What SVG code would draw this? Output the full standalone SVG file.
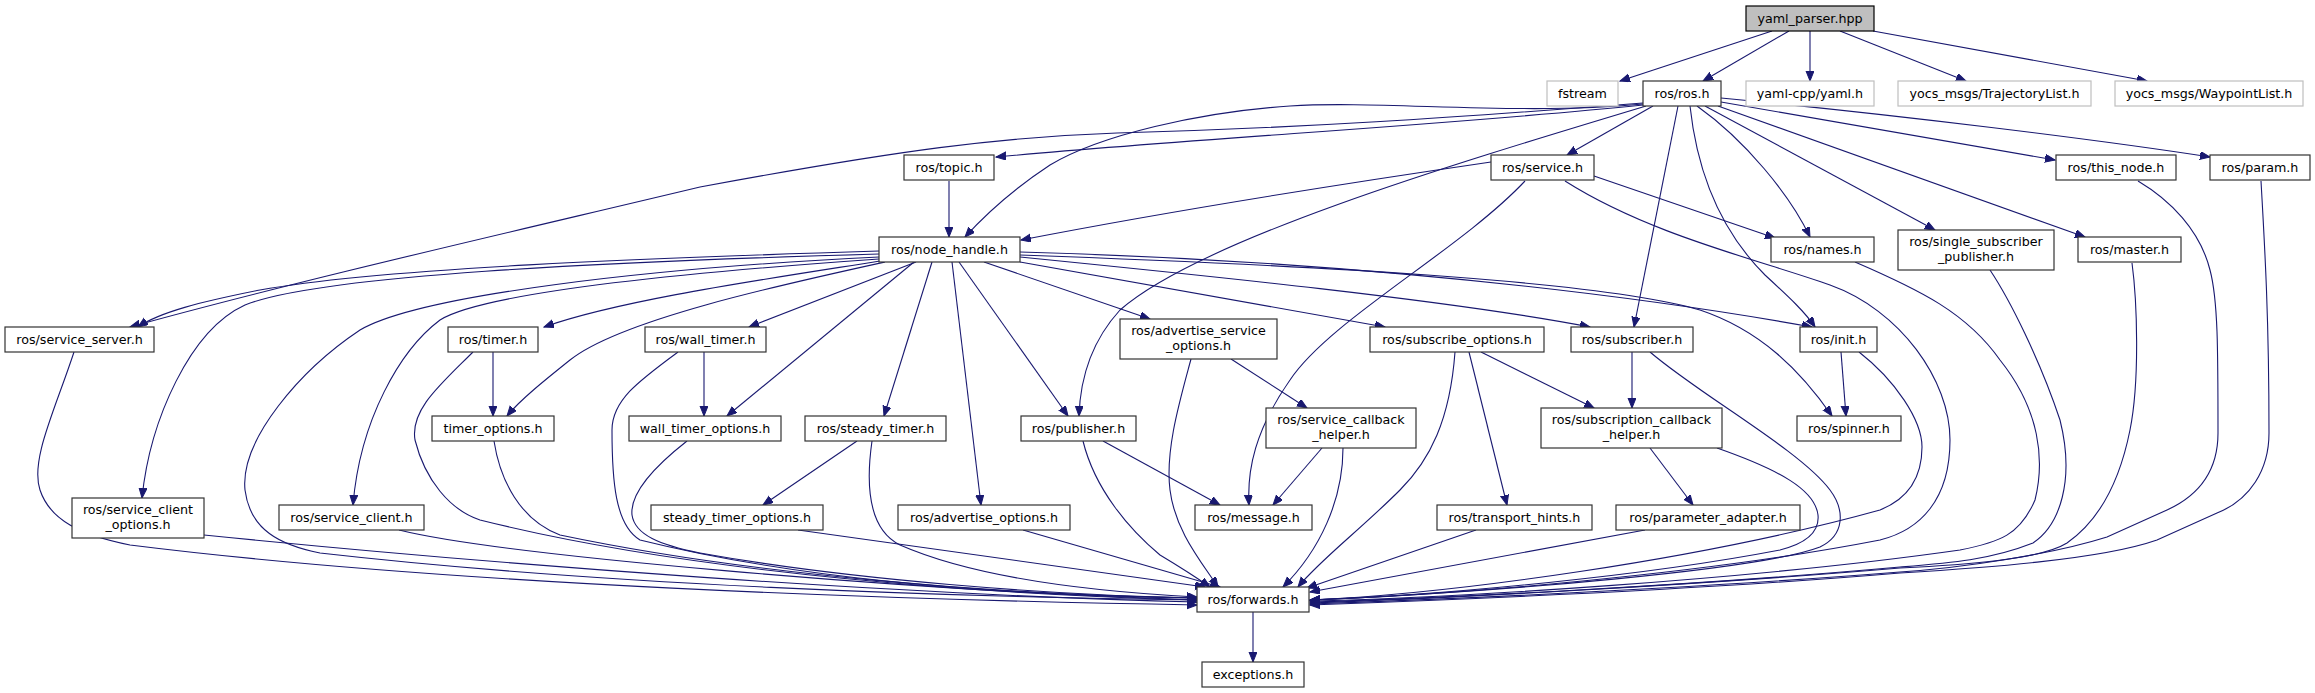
<svg xmlns="http://www.w3.org/2000/svg" width="2315" height="693" viewBox="0 0 2315 693">
<style>
.n rect{fill:#fff;stroke:#333;stroke-width:1.2}
.r rect{fill:#bfbfbf;stroke:#000;stroke-width:1.2}
.x rect{fill:#fff;stroke:#bfbfbf;stroke-width:1.2}
text{font-family:"DejaVu Sans",Verdana,sans-serif;font-size:12.7px;fill:#000;text-anchor:middle}
#edges path{fill:none;stroke:#191970;stroke-width:1.1;marker-end:url(#a)}
</style>
<defs>
<marker id="a" markerUnits="userSpaceOnUse" markerWidth="11" markerHeight="9" refX="10" refY="4" orient="auto"><path d="M0,0 L10,4 L0,8 z" fill="#191970" stroke="#191970" stroke-width="1"/></marker>
</defs>
<rect width="2315" height="693" fill="#fff"/>
<g id="edges">
<path d="M1772,31 L1620,81"/>
<path d="M1789,31 L1703,81"/>
<path d="M1810,31 L1810,81"/>
<path d="M1840,31 L1966,81"/>
<path d="M1873,31 L2147,81"/>
<path d="M1643,105 C1450,125 1200,138 996,157"/>
<path d="M1643,104 C1520,116 1380,100 1290,106 C1200,112 1100,135 1050,165 C1015,188 985,215 965,237"/>
<path d="M1643,103 C1450,118 1300,128 1117,133 C1000,137 900,150 700,187 C520,230 300,280 130,327"/>
<path d="M1646,106 C1450,165 1200,240 1120,310 C1088,345 1080,385 1079,416"/>
<path d="M1653,106 L1567,155"/>
<path d="M1678,106 L1634,327"/>
<path d="M1690,106 C1698,180 1725,235 1765,275 C1790,298 1805,312 1815,327"/>
<path d="M1697,106 C1745,140 1790,195 1810,237"/>
<path d="M1705,106 L1935,230"/>
<path d="M1718,106 L2085,237"/>
<path d="M1721,102 L2055,160"/>
<path d="M1721,98 C1900,115 2100,140 2210,157"/>
<path d="M949,181 L949,237"/>
<path d="M1491,162 C1300,190 1150,215 1021,240"/>
<path d="M1594,176 L1775,238"/>
<path d="M1525,181 C1460,250 1330,320 1290,380 C1255,430 1247,470 1249,505"/>
<path d="M1565,181 C1650,235 1760,260 1830,285 C1900,310 1950,380 1950,440 C1950,500 1920,530 1880,540 C1700,575 1450,595 1310,600"/>
<path d="M879,251 C650,258 380,268 260,290 C200,302 160,312 138,327"/>
<path d="M879,254 C600,262 320,275 245,305 C190,330 150,420 142,498"/>
<path d="M879,257 C650,268 420,295 360,330 C300,370 240,440 245,490 C250,530 280,545 320,553 C600,585 950,597 1197,600"/>
<path d="M879,259 C650,275 480,295 440,320 C400,350 360,420 353,505"/>
<path d="M880,261 C760,280 620,300 544,327"/>
<path d="M885,262 C780,285 620,320 570,360 C545,380 520,400 507,416"/>
<path d="M916,262 L749,327"/>
<path d="M914,262 L727,416"/>
<path d="M932,262 L884,416"/>
<path d="M952,262 L981,505"/>
<path d="M959,262 L1068,416"/>
<path d="M984,262 L1150,319"/>
<path d="M1020,262 L1385,327"/>
<path d="M1020,257 C1200,275 1450,300 1590,327"/>
<path d="M1020,252 C1250,258 1550,280 1812,327"/>
<path d="M1020,255 C1300,265 1600,280 1700,310 C1760,330 1800,370 1832,416"/>
<path d="M74,352 C55,410 30,460 40,490 C50,520 80,535 130,545 C450,585 900,600 1197,605"/>
<path d="M493,352 L493,416"/>
<path d="M473,352 C440,385 410,410 415,440 C425,480 450,510 480,520 C700,575 1000,595 1197,600"/>
<path d="M704,352 L704,416"/>
<path d="M678,352 C640,380 612,400 612,430 C612,480 615,525 640,540 C800,580 1000,595 1197,598"/>
<path d="M1231,359 L1307,408"/>
<path d="M1191,359 C1180,400 1165,450 1170,490 C1175,530 1200,560 1218,587"/>
<path d="M1481,352 L1594,408"/>
<path d="M1469,352 L1507,505"/>
<path d="M1455,352 C1450,420 1430,460 1400,490 C1360,530 1320,560 1298,587"/>
<path d="M1632,352 L1632,408"/>
<path d="M1650,352 C1700,395 1800,450 1830,490 C1845,510 1845,535 1820,547 C1760,570 1500,592 1310,600"/>
<path d="M1841,352 L1846,416"/>
<path d="M1859,352 C1895,380 1922,420 1922,447 C1922,480 1905,500 1880,510 C1700,560 1450,594 1310,600"/>
<path d="M494,441 C500,480 520,520 560,535 C750,575 1000,595 1197,598"/>
<path d="M687,441 C650,470 630,495 632,515 C635,535 660,545 700,553 C850,580 1050,595 1197,598"/>
<path d="M872,441 C865,490 870,530 900,545 C980,580 1100,592 1197,597"/>
<path d="M857,441 L763,505"/>
<path d="M1103,441 L1220,505"/>
<path d="M1083,441 C1095,490 1130,530 1160,555 C1185,570 1200,580 1210,587"/>
<path d="M1322,448 L1273,505"/>
<path d="M1343,448 C1343,500 1320,550 1283,587"/>
<path d="M1650,448 L1693,505"/>
<path d="M1717,448 C1780,470 1815,490 1818,515 C1820,535 1800,545 1780,550 C1650,575 1450,595 1310,600"/>
<path d="M204,535 C500,565 900,595 1197,602"/>
<path d="M399,530 C500,555 900,590 1197,600"/>
<path d="M798,530 L1205,587"/>
<path d="M1023,530 L1220,587"/>
<path d="M1476,530 L1307,588"/>
<path d="M1645,530 L1310,592"/>
<path d="M1855,262 C1920,290 1967,313 2000,360 C2040,410 2045,460 2035,500 C2020,535 2000,542 1960,550 C1750,580 1450,598 1310,601"/>
<path d="M1990,270 C2010,300 2040,360 2060,420 C2075,480 2060,525 2033,543 C1990,560 1950,563 1900,567 C1700,585 1450,598 1310,602"/>
<path d="M2132,263 C2137,300 2140,380 2130,430 C2120,480 2100,520 2067,543 C2040,560 1960,565 1900,568 C1700,585 1450,598 1310,603"/>
<path d="M2138,181 C2170,200 2200,230 2210,270 C2218,300 2218,350 2218,433 C2218,470 2200,495 2167,510 L2107,537 C2050,555 1960,568 1900,572 C1700,588 1450,599 1310,604"/>
<path d="M2261,181 C2265,250 2269,320 2269,433 C2269,470 2250,500 2217,513 L2157,540 C2100,560 1980,568 1900,573 C1700,590 1450,600 1310,605"/>
<path d="M1253,612 L1253,662"/>
</g>
<g id="yaml_parser" class="r"><rect x="1746" y="6" width="128" height="25"/><text x="1810" y="22.5">yaml_parser.hpp</text></g>
<g id="fstream" class="x"><rect x="1547" y="81" width="71" height="25"/><text x="1582.5" y="97.5">fstream</text></g>
<g id="ros_ros" class="n"><rect x="1643" y="81" width="78" height="25"/><text x="1682" y="97.5">ros/ros.h</text></g>
<g id="yaml_cpp" class="x"><rect x="1746" y="81" width="128" height="25"/><text x="1810" y="97.5">yaml-cpp/yaml.h</text></g>
<g id="traj" class="x"><rect x="1898" y="81" width="193" height="25"/><text x="1994.5" y="97.5">yocs_msgs/TrajectoryList.h</text></g>
<g id="wp" class="x"><rect x="2115" y="81" width="188" height="25"/><text x="2209" y="97.5">yocs_msgs/WaypointList.h</text></g>
<g id="topic" class="n"><rect x="904" y="155" width="90" height="25"/><text x="949" y="171.5">ros/topic.h</text></g>
<g id="service" class="n"><rect x="1491" y="155" width="103" height="25"/><text x="1542.5" y="171.5">ros/service.h</text></g>
<g id="this_node" class="n"><rect x="2056" y="155" width="120" height="25"/><text x="2116" y="171.5">ros/this_node.h</text></g>
<g id="param" class="n"><rect x="2210" y="155" width="100" height="25"/><text x="2260" y="171.5">ros/param.h</text></g>
<g id="node_handle" class="n"><rect x="879" y="237" width="141" height="25"/><text x="949.5" y="253.5">ros/node_handle.h</text></g>
<g id="names" class="n"><rect x="1771" y="237" width="103" height="25"/><text x="1822.5" y="253.5">ros/names.h</text></g>
<g id="ssp" class="n"><rect x="1898" y="230" width="156" height="40"/><text x="1976" y="246">ros/single_subscriber</text><text x="1976" y="261">_publisher.h</text></g>
<g id="master" class="n"><rect x="2078" y="237" width="103" height="25"/><text x="2129.5" y="253.5">ros/master.h</text></g>
<g id="service_server" class="n"><rect x="5" y="327" width="149" height="25"/><text x="79.5" y="343.5">ros/service_server.h</text></g>
<g id="timer" class="n"><rect x="448" y="327" width="90" height="25"/><text x="493" y="343.5">ros/timer.h</text></g>
<g id="wall_timer" class="n"><rect x="645" y="327" width="121" height="25"/><text x="705.5" y="343.5">ros/wall_timer.h</text></g>
<g id="aso" class="n"><rect x="1120" y="319" width="157" height="40"/><text x="1198.5" y="335">ros/advertise_service</text><text x="1198.5" y="350">_options.h</text></g>
<g id="subscribe_options" class="n"><rect x="1370" y="327" width="174" height="25"/><text x="1457" y="343.5">ros/subscribe_options.h</text></g>
<g id="subscriber" class="n"><rect x="1571" y="327" width="122" height="25"/><text x="1632" y="343.5">ros/subscriber.h</text></g>
<g id="init" class="n"><rect x="1800" y="327" width="77" height="25"/><text x="1838.5" y="343.5">ros/init.h</text></g>
<g id="timer_options" class="n"><rect x="432" y="416" width="122" height="25"/><text x="493" y="432.5">timer_options.h</text></g>
<g id="wall_timer_options" class="n"><rect x="629" y="416" width="152" height="25"/><text x="705" y="432.5">wall_timer_options.h</text></g>
<g id="steady_timer" class="n"><rect x="805" y="416" width="141" height="25"/><text x="875.5" y="432.5">ros/steady_timer.h</text></g>
<g id="publisher" class="n"><rect x="1021" y="416" width="115" height="25"/><text x="1078.5" y="432.5">ros/publisher.h</text></g>
<g id="sch" class="n"><rect x="1266" y="408" width="150" height="40"/><text x="1341" y="424">ros/service_callback</text><text x="1341" y="439">_helper.h</text></g>
<g id="subch" class="n"><rect x="1541" y="408" width="181" height="40"/><text x="1631.5" y="424">ros/subscription_callback</text><text x="1631.5" y="439">_helper.h</text></g>
<g id="spinner" class="n"><rect x="1797" y="416" width="104" height="25"/><text x="1849" y="432.5">ros/spinner.h</text></g>
<g id="sco" class="n"><rect x="72" y="498" width="132" height="40"/><text x="138" y="514">ros/service_client</text><text x="138" y="529">_options.h</text></g>
<g id="service_client" class="n"><rect x="279" y="505" width="145" height="25"/><text x="351.5" y="521.5">ros/service_client.h</text></g>
<g id="steady_timer_options" class="n"><rect x="651" y="505" width="172" height="25"/><text x="737" y="521.5">steady_timer_options.h</text></g>
<g id="advertise_options" class="n"><rect x="898" y="505" width="172" height="25"/><text x="984" y="521.5">ros/advertise_options.h</text></g>
<g id="message" class="n"><rect x="1195" y="505" width="117" height="25"/><text x="1253.5" y="521.5">ros/message.h</text></g>
<g id="transport_hints" class="n"><rect x="1437" y="505" width="155" height="25"/><text x="1514.5" y="521.5">ros/transport_hints.h</text></g>
<g id="parameter_adapter" class="n"><rect x="1616" y="505" width="184" height="25"/><text x="1708" y="521.5">ros/parameter_adapter.h</text></g>
<g id="forwards" class="n"><rect x="1197" y="587" width="112" height="25"/><text x="1253" y="603.5">ros/forwards.h</text></g>
<g id="exceptions" class="n"><rect x="1202" y="662" width="102" height="25"/><text x="1253" y="678.5">exceptions.h</text></g>
</svg>
